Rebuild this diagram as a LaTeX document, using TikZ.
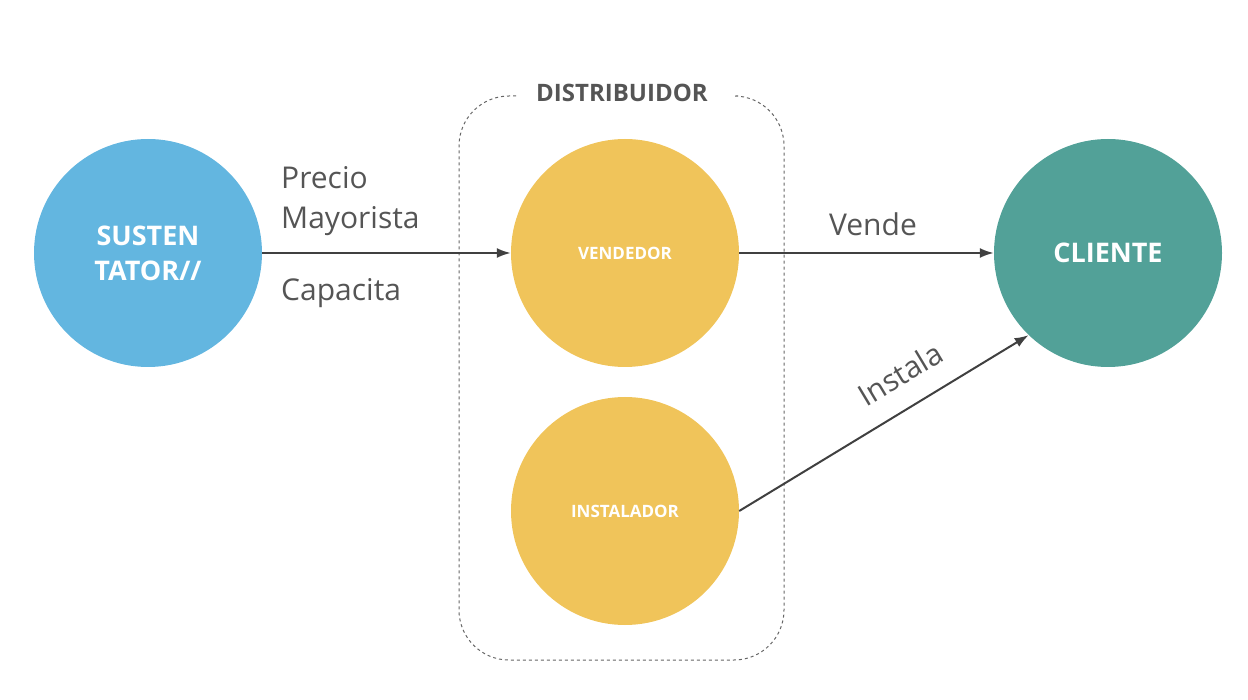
\documentclass[tikz,border=0pt]{standalone}
\usepackage{fontspec}
\setmainfont{Open Sans}
\usetikzlibrary{arrows.meta}
\definecolor{cblue}{HTML}{63B6E0}
\definecolor{cyel}{HTML}{F0C45A}
\definecolor{cteal}{HTML}{52A198}
\definecolor{tgray}{HTML}{555555}
\begin{document}
\begin{tikzpicture}[x=1pt,y=-1pt,
  circ/.style={circle,minimum size=228pt,inner sep=0pt,text=white,font=\bfseries,align=center},
  arr/.style={draw=black!75,line width=2pt,-{Latex[length=14pt,width=10pt]}},
  lbl/.style={text=tgray,font=\fontsize{30}{40}\selectfont,inner sep=0pt}]
\useasboundingbox (0,0) rectangle (1248,700);
\draw[dashed,draw=black!60,line width=1pt,rounded corners=50pt] (516,96) -- (459,96) -- (459,660) -- (784,660) -- (784,96) -- (738,96);
\node[text=tgray,font=\bfseries\fontsize{24}{28}\selectfont] (dist) at (622,93) {DISTRIBUIDOR};
\node[circ,fill=cblue,font=\bfseries\fontsize{27}{35}\selectfont] (s) at (148,253) {SUSTEN\\TATOR//};
\node[circ,fill=cyel,font=\bfseries\fontsize{17}{20}\selectfont] (v) at (625,253) {VENDEDOR};
\node[circ,fill=cyel,font=\bfseries\fontsize{17}{20}\selectfont] (i) at (625,511) {INSTALADOR};
\node[circ,fill=cteal,font=\bfseries\fontsize{27}{30}\selectfont] (c) at (1108,253) {CLIENTE};
\draw[arr] (s) -- (v);
\draw[arr] (v) -- (c);
\draw[arr] (i.east) -- (c.{-134});
\node[lbl,anchor=west,align=left] (pm) at (281,201) {Precio\\Mayorista};
\node[lbl,anchor=west] (cap) at (281,293) {Capacita};
\node[lbl] (ve) at (873,224) {Vende};
\node[lbl,rotate=31] (in) at (900,374) {Instala};
\end{tikzpicture}
\end{document}
